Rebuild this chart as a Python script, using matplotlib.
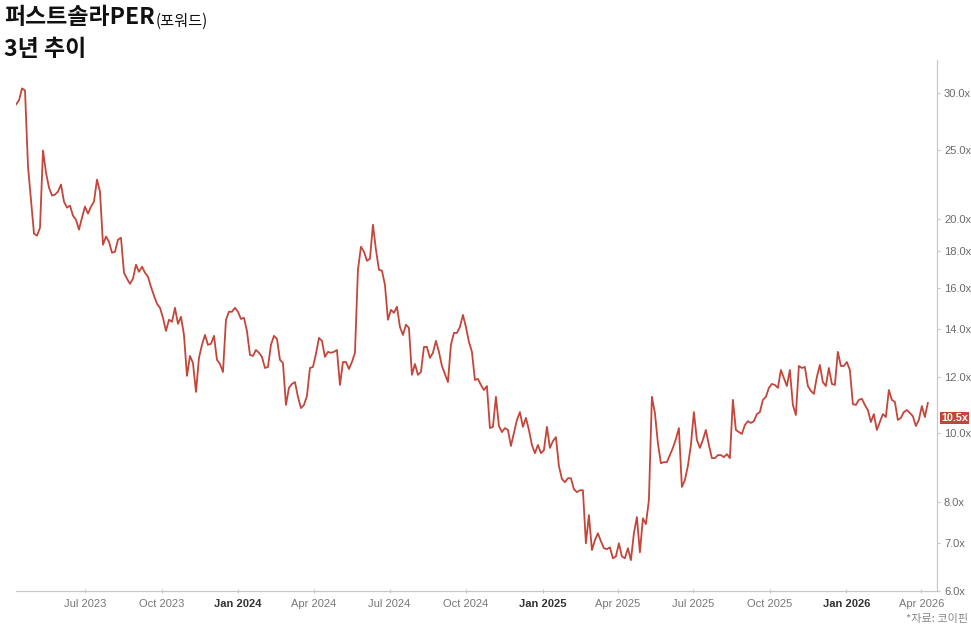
import numpy as np
import pandas as pd
import matplotlib
matplotlib.use("Agg")
import matplotlib.pyplot as plt
from matplotlib.ticker import FixedLocator, NullLocator, NullFormatter

plt.rcParams['font.family'] = ['Liberation Sans', 'Noto Sans CJK KR', 'DejaVu Sans']

# forward PER at evenly spaced dates
start_date = '2023-04-09'
end_date = '2026-04-09'
per = [
    28.93, 29.31, 30.47, 30.27, 23.67, 21.27, 19.05, 18.93, 19.42, 24.93,
    23.21, 22.11, 21.55, 21.61, 21.83, 22.33, 21.13, 20.72, 20.86, 20.19,
    19.93, 19.30, 20.06, 20.79, 20.33, 20.79, 21.13, 22.69, 21.83, 18.38,
    18.87, 18.56, 17.91, 17.97, 18.68, 18.80, 16.79, 16.47, 16.20, 16.47,
    17.23, 16.84, 17.12, 16.79, 16.57, 16.04, 15.59, 15.19, 14.99, 14.51,
    13.91, 14.42, 14.33, 14.99, 14.23, 14.56, 13.73, 12.03, 12.83, 12.54,
    11.42, 12.75, 13.30, 13.73, 13.30, 13.34, 13.69, 12.67, 12.50, 12.18,
    14.42, 14.80, 14.80, 14.99, 14.80, 14.46, 14.51, 13.91, 12.87, 12.83,
    13.08, 12.96, 12.79, 12.34, 12.38, 13.30, 13.69, 13.56, 12.67, 12.54,
    10.95, 11.57, 11.72, 11.79, 11.24, 10.84, 10.95, 11.27, 12.34, 12.38,
    12.92, 13.60, 13.47, 12.79, 13.00, 12.96, 13.00, 13.08, 11.68, 12.58,
    12.58, 12.30, 12.58, 12.96, 16.95, 18.26, 17.97, 17.45, 17.57, 19.61,
    18.09, 16.95, 16.90, 16.15, 14.42, 14.89, 14.75, 15.04, 14.09, 13.73,
    14.19, 14.05, 12.07, 12.50, 12.07, 12.18, 13.21, 13.21, 12.75, 12.96,
    13.47, 13.00, 12.42, 12.10, 11.79, 13.30, 13.82, 13.82, 14.09, 14.65,
    14.09, 13.43, 13.00, 11.87, 11.91, 11.68, 11.49, 11.64, 10.16, 10.20,
    11.24, 10.23, 10.03, 10.16, 10.10, 9.59, 10.00, 10.43, 10.70, 10.20,
    10.50, 10.10, 9.62, 9.37, 9.62, 9.37, 9.46, 10.20, 9.53, 9.74,
    9.87, 8.99, 8.62, 8.53, 8.64, 8.64, 8.34, 8.26, 8.31, 8.31,
    7.00, 7.67, 6.85, 7.07, 7.23, 7.05, 6.89, 6.87, 6.91, 6.67,
    6.71, 7.00, 6.71, 6.67, 6.89, 6.63, 7.23, 7.62, 6.80, 7.59,
    7.45, 8.05, 11.24, 10.67, 9.68, 9.07, 9.10, 9.10, 9.31, 9.53,
    9.81, 10.16, 8.40, 8.59, 8.99, 9.62, 10.70, 9.78, 9.53, 9.78,
    10.10, 9.62, 9.22, 9.22, 9.31, 9.31, 9.25, 9.34, 9.22, 11.13,
    10.10, 10.03, 9.97, 10.26, 10.39, 10.33, 10.39, 10.63, 10.70, 11.13,
    11.24, 11.57, 11.72, 11.68, 11.57, 12.26, 11.95, 11.64, 12.26, 10.95,
    10.60, 12.42, 12.34, 12.38, 11.64, 11.46, 11.35, 11.99, 12.46, 11.79,
    11.64, 12.34, 11.72, 11.68, 13.00, 12.42, 12.42, 12.58, 12.26, 10.98,
    10.95, 11.13, 11.17, 10.95, 10.77, 10.36, 10.63, 10.10, 10.36, 10.63,
    10.53, 11.49, 11.13, 11.06, 10.43, 10.50, 10.70, 10.77, 10.67, 10.56,
    10.23, 10.43, 10.91, 10.53, 11.02,
]
dates = pd.date_range(start_date, end_date, periods=len(per))

y_ticks = [6, 7, 8, 10, 12, 14, 16, 18, 20, 25, 30]
x_ticks = ['2023-07-01', '2023-10-01', '2024-01-01', '2024-04-01', '2024-07-01',
           '2024-10-01', '2025-01-01', '2025-04-01', '2025-07-01', '2025-10-01',
           '2026-01-01', '2026-04-01']
x_labels = ['Jul 2023', 'Oct 2023', 'Jan 2024', 'Apr 2024', 'Jul 2024', 'Oct 2024',
            'Jan 2025', 'Apr 2025', 'Jul 2025', 'Oct 2025', 'Jan 2026', 'Apr 2026']
last_value = 10.5

line_color = '#c4453a'
axis_color = '#c8c8c8'

fig = plt.figure(figsize=(9.71, 6.27), dpi=100)
ax = fig.add_axes([16 / 971, 1 - 591 / 627, 921 / 971, 531 / 627])

ax.plot(dates, per, color=line_color, lw=1.3, solid_joinstyle='round')

ax.set_yscale('log')
ax.set_ylim(6.0, 33.4)
ax.set_xlim(pd.Timestamp('2023-04-09'), pd.Timestamp('2026-04-20'))

# y axis on the right
ax.yaxis.tick_right()
ax.yaxis.set_major_locator(FixedLocator(y_ticks))
ax.yaxis.set_minor_locator(NullLocator())
ax.yaxis.set_minor_formatter(NullFormatter())
ax.set_yticklabels([f'{t:.1f}x' for t in y_ticks])
ax.tick_params(axis='y', which='major', length=2, width=0.8, color=axis_color,
               pad=3, labelsize=8, labelcolor='#6b6b6b')

ax.set_xticks(pd.to_datetime(x_ticks))
ax.set_xticklabels(x_labels)
ax.tick_params(axis='x', length=3, width=0.8, direction='inout', color=axis_color,
               pad=4, labelsize=8, labelcolor='#777777')
for lbl in ax.get_xticklabels():
    if lbl.get_text().startswith('Jan'):
        lbl.set_fontweight('bold')
        lbl.set_color('#333333')

for s in ['left', 'top']:
    ax.spines[s].set_visible(False)
for s in ['bottom', 'right']:
    ax.spines[s].set_color(axis_color)
    ax.spines[s].set_linewidth(0.9)

# current value tag
ax.annotate(f'{last_value}x', xy=(1, last_value), xycoords=('axes fraction', 'data'),
            xytext=(4, 0), textcoords='offset pixels', ha='left', va='center',
            fontsize=7.8, fontweight='bold', color='white',
            bbox=dict(boxstyle='square,pad=0.12', fc=line_color, ec='none'))

# title
t1 = fig.text(4 / 971, 1 - 18 / 627, '퍼스트솔라PER', fontsize=16.5, fontweight='heavy',
              family='Noto Sans CJK KR', va='center', color='#111111')
fig.canvas.draw()
bb = t1.get_window_extent()
fig.text(bb.x1 / 971 + 0.001, 1 - 21 / 627, '(포워드)', fontsize=11,
         family='Noto Sans CJK KR', va='center', color='#111111')
fig.text(4 / 971, 1 - 49 / 627, '3년 추이', fontsize=16.5, fontweight='heavy',
         family='Noto Sans CJK KR', va='center', color='#111111')

fig.text(968 / 971, 1 - 619 / 627, '*자료: 코이핀', ha='right', va='center',
         fontsize=8, color='#888888', family='Noto Sans CJK KR')

fig.savefig('out.png', dpi=100)
